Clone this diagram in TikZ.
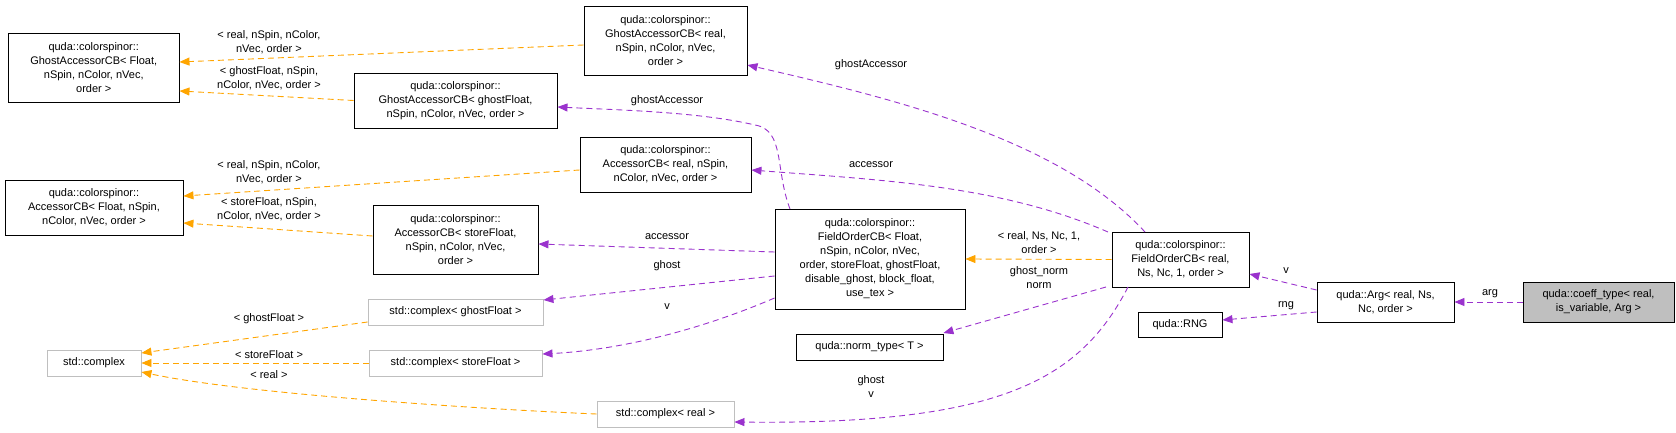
\documentclass[tikz,border=0pt]{standalone}
\usepackage{fontspec}
\setmainfont{Liberation Sans}
\usetikzlibrary{arrows.meta}
\definecolor{orng}{HTML}{FFA500}
\definecolor{purp}{HTML}{9A32CD}
\definecolor{gbord}{HTML}{BFBFBF}
\begin{document}
\begin{tikzpicture}[x=1pt,y=-1pt,
  every node/.style={font=\fontsize{11}{14}\selectfont, align=center, inner sep=0pt},
  box/.style={draw=black, line width=0.9pt, fill=white},
  gbox/.style={draw=gbord, line width=0.9pt, fill=white},
  dep/.style={dash pattern=on 6pt off 4pt, line width=0.9pt},
  oe/.style={dep, draw=orng, -{Triangle[length=10pt,width=8pt,fill=orng]}},
  pe/.style={dep, draw=purp, -{Triangle[length=10pt,width=8pt,fill=purp]}},
  lab/.style={fill=none, text=black}]
\useasboundingbox (0,0) rectangle (1676,433);
\node[box, minimum width=170.5pt, minimum height=69pt] (A) at (93.75,67.5) {quda::colorspinor::\\GhostAccessorCB< Float,\\nSpin, nColor, nVec,\\order >};
\node[box, minimum width=178pt, minimum height=55pt] (B) at (94,207.5) {quda::colorspinor::\\AccessorCB< Float, nSpin,\\nColor, nVec, order >};
\node[gbox, minimum width=94pt, minimum height=26pt] (C) at (94,363) {std::complex};
\node[box, minimum width=203pt, minimum height=55pt] (D) at (455.5,100.5) {quda::colorspinor::\\GhostAccessorCB< ghostFloat,\\nSpin, nColor, nVec, order >};
\node[box, minimum width=165pt, minimum height=69pt] (E) at (455.5,239.5) {quda::colorspinor::\\AccessorCB< storeFloat,\\nSpin, nColor, nVec,\\order >};
\node[gbox, minimum width=175pt, minimum height=26pt] (F) at (455.5,312) {std::complex< ghostFloat >};
\node[gbox, minimum width=173pt, minimum height=26pt] (G) at (455.5,363) {std::complex< storeFloat >};
\node[box, minimum width=163pt, minimum height=69pt] (H) at (665.5,40.5) {quda::colorspinor::\\GhostAccessorCB< real,\\nSpin, nColor, nVec,\\order >};
\node[box, minimum width=171pt, minimum height=55pt] (I) at (665.5,164.5) {quda::colorspinor::\\AccessorCB< real, nSpin,\\nColor, nVec, order >};
\node[gbox, minimum width=137pt, minimum height=26pt] (J) at (665.5,414) {std::complex< real >};
\node[box, minimum width=190pt, minimum height=100pt] (K) at (870,259) {quda::colorspinor::\\FieldOrderCB< Float,\\nSpin, nColor, nVec,\\order, storeFloat, ghostFloat,\\disable\_ghost, block\_float,\\use\_tex >};
\node[box, minimum width=137pt, minimum height=55pt] (L) at (1180.5,259.5) {quda::colorspinor::\\FieldOrderCB< real,\\Ns, Nc, 1, order >};
\node[box, minimum width=147pt, minimum height=26pt] (M) at (869.5,347) {quda::norm\_type< T >};
\node[box, minimum width=84pt, minimum height=25pt] (N) at (1180,324.5) {quda::RNG};
\node[box, minimum width=137pt, minimum height=40pt] (O) at (1385.5,302) {quda::Arg< real, Ns,\\Nc, order >};
\node[box, fill={rgb,255:red,191;green,191;blue,191}, minimum width=151pt, minimum height=40pt] (P) at (1598.5,302) {quda::coeff\_type< real,\\is\_variable, Arg >};
% orange template edges
\draw[oe] (H.west |- 0,45) -- (A.east |- 0,62);
\draw[oe] (D.west) -- (A.east |- 0,91);
\draw[oe] (I.west |- 0,170) -- (B.east |- 0,196);
\draw[oe] (E.west |- 0,236) -- (B.east |- 0,223);
\draw[oe] (F.west |- 0,322) -- (C.east |- 0,353);
\draw[oe] (G.west) -- (C.east);
\draw[oe] (J.west) .. controls (500,410) and (250,395) .. (C.east |- 0,372);
\draw[oe] (L.west) -- (K.east);
\node[lab] at (269,42) {< real, nSpin, nColor,\\nVec, order >};
\node[lab] at (269,78) {< ghostFloat, nSpin,\\nColor, nVec, order >};
\node[lab] at (269,172) {< real, nSpin, nColor,\\nVec, order >};
\node[lab] at (269,209) {< storeFloat, nSpin,\\nColor, nVec, order >};
\node[lab] at (269,319) {< ghostFloat >};
\node[lab] at (269,355) {< storeFloat >};
\node[lab] at (269,375) {< real >};
\node[lab] at (1039,243) {< real, Ns, Nc, 1,\\order >};
% purple member edges
\coordinate (Ltop) at (1145,232);
\draw[pe] (Ltop) .. controls (1060,140) and (900,100) .. (H.east |- 0,65);
\coordinate (Ktop) at (790,209);
\draw[pe] (Ktop) .. controls (775,170) and (785,130) .. (755,125) .. controls (700,112) and (620,110) .. (D.east |- 0,107);
\coordinate (Ltop2) at (1108,232);
\draw[pe] (Ltop2) .. controls (1000,185) and (880,180) .. (I.east |- 0,170);
\draw[pe] (K.west |- 0,252) -- (E.east |- 0,244);
\draw[pe] (K.west |- 0,276) -- (F.east |- 0,300);
\draw[pe] (K.west |- 0,298) .. controls (700,330) and (620,350) .. (G.east |- 0,354);
\coordinate (Lbl) at (1106,287);
\draw[pe] (Lbl) -- (M.north east |- 0,333);
\coordinate (Lbot) at (1128,287);
\draw[pe] (Lbot) .. controls (1080,380) and (1000,425) .. (J.east |- 0,422);
\draw[pe] (O.west |- 0,290) -- (L.east |- 0,274);
\draw[pe] (O.west |- 0,312) -- (N.east |- 0,320);
\draw[pe] (P.west) -- (O.east);
\node[lab] at (871,65) {ghostAccessor};
\node[lab] at (667,101) {ghostAccessor};
\node[lab] at (871,165) {accessor};
\node[lab] at (667,237) {accessor};
\node[lab] at (667,266) {ghost};
\node[lab] at (667,307) {v};
\node[lab] at (1039,278) {ghost\_norm\\norm};
\node[lab] at (871,387) {ghost\\v};
\node[lab] at (1286,271) {v};
\node[lab] at (1286,306) {rng};
\node[lab] at (1490,294) {arg};
\end{tikzpicture}
\end{document}
